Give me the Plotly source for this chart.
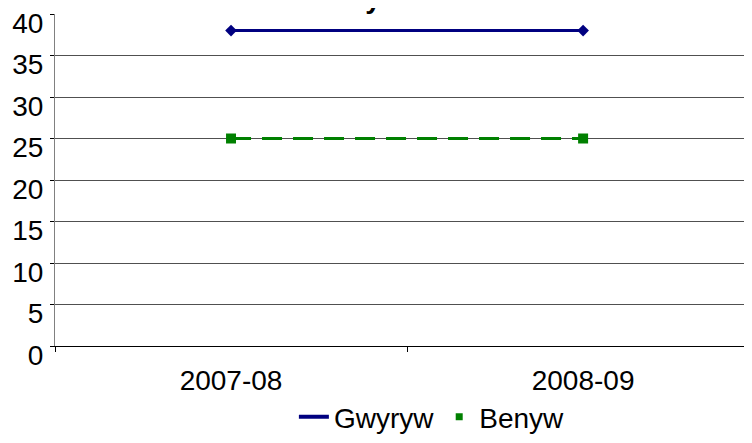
import plotly.graph_objects as go

categories = ["2007-08", "2008-09"]
gwyryw = [38, 38]
benyw = [25, 25]
y_ticks = [0, 5, 10, 15, 20, 25, 30, 35, 40]

fig = go.Figure()
fig.add_trace(go.Scatter(
    x=categories, y=gwyryw, name="Gwyryw", mode="lines+markers",
    line=dict(color="#000080", width=3), legendgroup="g", showlegend=False,
    marker=dict(symbol="diamond", size=9, color="#000080"),
))
fig.add_trace(go.Scatter(
    x=categories, y=benyw, name="Benyw", mode="lines+markers",
    line=dict(color="#008000", width=3, dash="20px,11px"), legendgroup="b", showlegend=False,
    marker=dict(symbol="square", size=10, color="#008000"),
))
# legend entries (styled like the reference legend)
fig.add_trace(go.Scatter(
    x=[None], y=[None], name="Gwyryw", mode="lines", legendgroup="g",
    line=dict(color="#000080", width=4),
))
fig.add_trace(go.Scatter(
    x=[None], y=[None], name="Benyw", mode="markers", legendgroup="b",
    marker=dict(symbol="square", size=7, color="#008000"),
))

fig.update_layout(
    width=736, height=427,
    margin=dict(l=47, r=0, t=6, b=89, autoexpand=False),
    paper_bgcolor="white", plot_bgcolor="white",
    font=dict(family="Liberation Sans, Arial, sans-serif", size=28, color="black"),
    showlegend=True,
    legend=dict(orientation="h", x=0.547, xanchor="center",
                yref="paper", y=-0.214, yanchor="middle",
                font=dict(size=28), tracegroupgap=0),
    annotations=[dict(text="<b>Cymru</b>", xref="paper", yref="paper",
                      x=0.486, y=1, xanchor="center", yanchor="bottom", yshift=-2,
                      showarrow=False, font=dict(size=28, color="black"))],
)
fig.update_xaxes(
    type="category", range=[-0.5, 1.457], automargin=False,
    showgrid=False, showline=True, linecolor="black", linewidth=1,
    ticks="outside", tickson="boundaries", ticklen=5, tickcolor="black",
    ticklabelstandoff=9, tickfont=dict(size=28),
)
fig.update_yaxes(
    range=[0, 40], tickvals=y_ticks, automargin=False,
    showgrid=True, gridcolor="#505050", gridwidth=1.3,
    showline=True, linecolor="#808080", linewidth=1,
    ticks="outside", ticklen=4, tickcolor="black", ticklabeloverflow="allow",
    zeroline=False, ticklabelshift=9, ticklabelstandoff=1, tickfont=dict(size=28),
)

fig.write_html("out.html")
